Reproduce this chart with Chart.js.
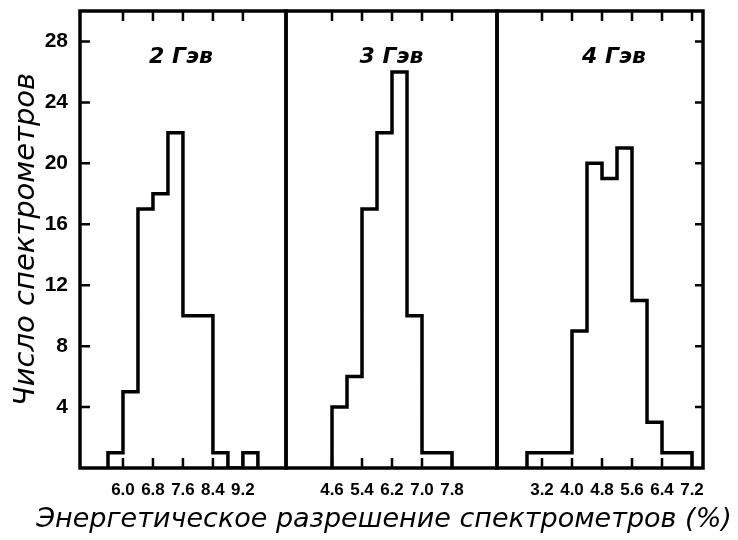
<!DOCTYPE html>
<html>
<head>
<meta charset="utf-8">
<script src="https://cdn.jsdelivr.net/npm/chart.js@4.4.1/dist/chart.umd.min.js"></script>
<style>
  body { margin: 0; background: #fff; }
  #wrap { position: relative; width: 738px; height: 540px; }
  #wrap canvas { position: absolute; left: 0; top: 0; }
</style>
</head>
<body>
<div id="wrap">
  <canvas id="c1" width="738" height="540"></canvas>
  <canvas id="c2" width="738" height="540"></canvas>
  <canvas id="c3" width="738" height="540"></canvas>
</div>
<script>
// histogram data (bin edges, counts per bin)
const yTicks = [4, 8, 12, 16, 20, 24, 28];

const edges2 = [5.6, 6.0, 6.4, 6.8, 7.2, 7.6, 8.0, 8.4, 8.8, 9.2, 9.6];
const counts2 = [1, 5, 17, 18, 22, 10, 10, 1, 0, 1];
const ticks2 = [6.0, 6.8, 7.6, 8.4, 9.2];

const edges3 = [4.6, 5.0, 5.4, 5.8, 6.2, 6.6, 7.0, 7.4, 7.8];
const counts3 = [4, 6, 17, 22, 26, 10, 1, 1];
const ticks3 = [4.6, 5.4, 6.2, 7.0, 7.8];

const edges4 = [2.8, 3.2, 3.6, 4.0, 4.4, 4.8, 5.2, 5.6, 6.0, 6.4, 6.8, 7.2];
const counts4 = [1, 1, 1, 9, 20, 19, 21, 11, 3, 1, 1];
const ticks4 = [3.2, 4.0, 4.8, 5.6, 6.4, 7.2];

const panelLabels = ['2 Гэв', '3 Гэв', '4 Гэв'];
const yTitle = 'Число спектрометров';
const xTitle = 'Энергетическое разрешение спектрометров (%)';

const INK = '#000';
const tickFont = { family: "'Liberation Sans', Arial, sans-serif", weight: 'bold' };
const handFont = "'DejaVu Sans', sans-serif";

function stepPoints(edges, counts){
  const pts = [{ x: edges[0], y: 0 }];
  counts.forEach((c, i) => pts.push({ x: edges[i], y: c }));
  pts.push({ x: edges[edges.length - 1], y: 0 });
  return pts;
}

// frame, inward tick marks, panel captions
const framePlugin = {
  id: 'frame',
  afterDraw(chart, args, o){
    const { ctx, chartArea: a } = chart;
    const x = chart.scales.x, y = chart.scales.y;
    ctx.save();
    ctx.strokeStyle = INK;
    ctx.lineWidth = 2.5;
    ctx.beginPath();
    x.ticks.forEach(t => {
      const px = x.getPixelForValue(t.value);
      ctx.moveTo(px, a.top); ctx.lineTo(px, a.top + 10);
      ctx.moveTo(px, a.bottom); ctx.lineTo(px, a.bottom - 10);
    });
    yTicks.forEach(v => {
      const py = y.getPixelForValue(v);
      if (o.left) { ctx.moveTo(a.left, py); ctx.lineTo(a.left + 10, py); }
      if (o.right) { ctx.moveTo(a.right, py); ctx.lineTo(a.right - 8, py); }
    });
    ctx.stroke();
    ctx.lineWidth = 3.5;
    ctx.strokeRect(a.left, a.top, a.right - a.left, a.bottom - a.top);

    ctx.fillStyle = INK;
    ctx.textAlign = 'center';
    ctx.textBaseline = 'middle';
    ctx.font = 'italic bold 22px ' + handFont;
    ctx.fillText(o.label, (a.left + a.right) / 2 + o.dx, 57);
    if (o.xTitle) {
      ctx.font = 'italic 27px ' + handFont;
      ctx.fillText(o.xTitle, 384, 520);
    }
    ctx.restore();
  }
};

function makePanel(id, edges, counts, ticks, xmin, xmax, pad, frameOpts, showY){
  new Chart(document.getElementById(id), {
    type: 'line',
    data: {
      datasets: [{
        data: stepPoints(edges, counts),
        stepped: true,
        borderColor: INK,
        borderWidth: 3.5,
        pointRadius: 0,
        fill: false,
        borderJoinStyle: 'miter'
      }]
    },
    options: {
      responsive: false,
      animation: false,
      devicePixelRatio: 1,
      layout: { padding: pad },
      plugins: { legend: { display: false }, tooltip: { enabled: false }, frame: frameOpts },
      scales: {
        x: {
          type: 'linear', min: xmin, max: xmax,
          afterBuildTicks: s => { s.ticks = ticks.map(v => ({ value: v })); },
          afterFit: s => { s.height = 72; s.paddingLeft = 0; s.paddingRight = 0; },
          grid: { display: false, drawTicks: false },
          border: { display: false },
          ticks: { color: INK, padding: 12, font: { ...tickFont, size: 17 }, callback: v => v.toFixed(1), maxRotation: 0, autoSkip: false }
        },
        y: {
          display: showY,
          min: 0, max: 30,
          afterBuildTicks: s => { s.ticks = yTicks.map(v => ({ value: v })); },
          afterFit: s => {
            s.width = showY ? 80 : 0;
            s.paddingTop = 0; s.paddingBottom = 0;
          },
          grid: { display: false, drawTicks: false },
          border: { display: false },
          ticks: { color: INK, padding: 12, font: { ...tickFont, size: 21 } },
          title: { display: true, text: yTitle, color: INK, padding: { top: 9 }, font: { family: handFont, style: 'italic', size: 29 } }
        }
      }
    },
    plugins: [framePlugin]
  });
}

makePanel('c1', edges2, counts2, ticks2, 4.853, 10.35,
  { left: 0, top: 11, right: 452, bottom: 0 },
  { left: true, label: panelLabels[0], dx: -2, xTitle: xTitle }, true);
makePanel('c2', edges3, counts3, ticks3, 3.373, 9.0,
  { left: 286, top: 11, right: 241, bottom: 0 },
  { label: panelLabels[1], dx: 0 }, false);
makePanel('c3', edges4, counts4, ticks4, 2.0, 7.493,
  { left: 497, top: 11, right: 35, bottom: 0 },
  { right: true, label: panelLabels[2], dx: 14 }, false);
</script>
</body>
</html>
